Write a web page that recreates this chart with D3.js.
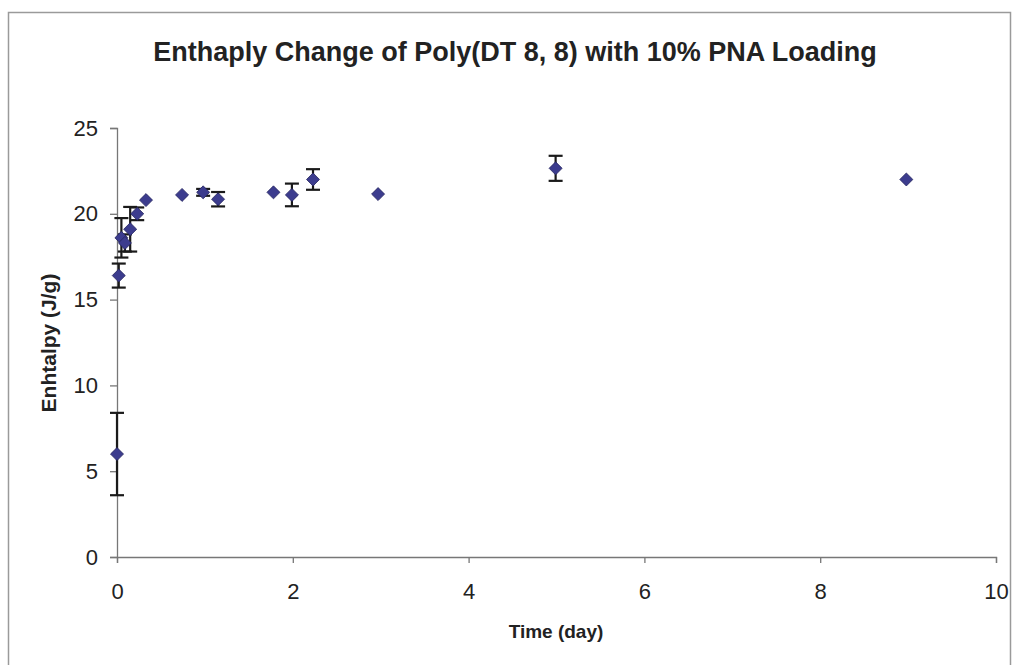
<!DOCTYPE html>
<html><head><meta charset="utf-8">
<script src="https://cdn.jsdelivr.net/npm/d3@7"></script>
<style>body{margin:0;background:#fff}svg{display:block}text{font-family:"Liberation Sans",Arial,sans-serif}</style>
</head><body>
<script>
const title = "Enthaply Change of Poly(DT 8, 8) with 10% PNA Loading";
const xLabel = "Time (day)";
const yLabel = "Enhtalpy (J/g)";
const times = [0, 0.02, 0.05, 0.09, 0.15, 0.23, 0.33, 0.74, 0.98, 1.15, 1.78, 1.99, 2.23, 2.97, 4.99, 8.98];
const enthalpy = [6.0, 16.4, 18.6, 18.3, 19.1, 20.0, 20.8, 21.1, 21.25, 20.85, 21.25, 21.1, 22.0, 21.15, 22.65, 22.0];
const errors = [2.4, 0.7, 1.15, 0.5, 1.3, 0.37, 0, 0, 0.2, 0.42, 0, 0.66, 0.6, 0, 0.73, 0];
const xTicks = [0, 2, 4, 6, 8, 10];
const yTicks = [0, 5, 10, 15, 20, 25];

const W = 1016, H = 665;
const svg = d3.select("body").append("svg").attr("width", W).attr("height", H);
svg.append("rect").attr("x", 8.5).attr("y", 12.5).attr("width", 1002).attr("height", 700)
  .attr("fill", "#fff").attr("stroke", "#9a9a9a").attr("stroke-width", 1.5);

const x = d3.scaleLinear().domain([0, 10]).range([117, 996]);
const y = d3.scaleLinear().domain([0, 25]).range([557, 128]);

const xAxis = svg.append("g").attr("transform", `translate(0,${y(0)})`)
  .call(d3.axisBottom(x).tickValues(xTicks).tickSize(6).tickPadding(20).tickFormat(d3.format("d")));
const yAxis = svg.append("g").attr("transform", `translate(${x(0)},0)`)
  .call(d3.axisLeft(y).tickValues(yTicks).tickSize(7).tickPadding(12).tickFormat(d3.format("d")));
[xAxis, yAxis].forEach(g => {
  g.select(".domain").attr("stroke", "#777").attr("stroke-width", 1.3);
  g.selectAll(".tick line").attr("stroke", "#777").attr("stroke-width", 1.3);
  g.selectAll(".tick text").attr("font-size", 22).attr("fill", "#222")
    .style("font-family", "'Liberation Sans',Arial,sans-serif");
});

const data = times.map((t, i) => ({t, v: enthalpy[i], e: errors[i]}));
const eb = svg.append("g").attr("stroke", "#1a1a1a").attr("stroke-width", 2.2);
data.filter(d => d.e > 0).forEach(d => {
  const cx = x(d.t);
  eb.append("line").attr("x1", cx).attr("x2", cx).attr("y1", y(d.v - d.e)).attr("y2", y(d.v + d.e));
  [d.v - d.e, d.v + d.e].forEach(v => eb.append("line").attr("x1", cx - 7).attr("x2", cx + 7).attr("y1", y(v)).attr("y2", y(v)));
});
const diamond = d3.symbol().type(d3.symbolDiamond2).size(108);
svg.append("g").selectAll("path").data(data).join("path")
  .attr("d", diamond)
  .attr("transform", d => `translate(${x(d.t)},${y(d.v)})`)
  .attr("fill", "#3c3c8e").attr("stroke", "#24245e").attr("stroke-width", 0.8);

svg.append("text").attr("x", 515).attr("y", 61).attr("text-anchor", "middle")
  .attr("font-size", 27).attr("font-weight", "bold").attr("fill", "#222").text(title);
svg.append("text").attr("x", 556).attr("y", 638).attr("text-anchor", "middle")
  .attr("font-size", 19).attr("font-weight", "bold").attr("fill", "#222").text(xLabel);
svg.append("text").attr("transform", "translate(56,343) rotate(-90)").attr("text-anchor", "middle")
  .attr("font-size", 21).attr("font-weight", "bold").attr("fill", "#222").text(yLabel);
</script>
</body></html>
